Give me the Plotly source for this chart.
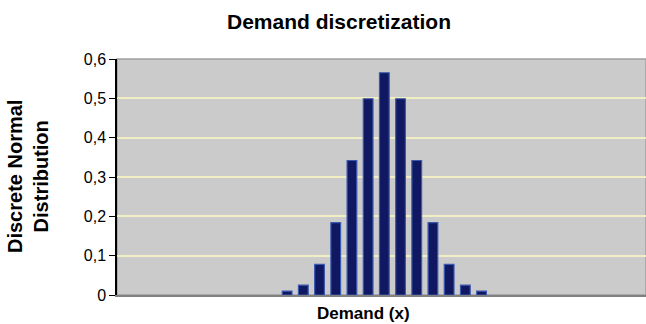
import plotly.graph_objects as go

# Demand levels (category index) and discrete normal probabilities;
# None marks demand levels with no probability mass
demand = list(range(33))
prob = [None] * 10 + [
    0.010, 0.025, 0.078, 0.184, 0.342, 0.499, 0.565,
    0.499, 0.342, 0.184, 0.078, 0.025, 0.010,
] + [None] * 10

y_ticks = [0, 0.1, 0.2, 0.3, 0.4, 0.5, 0.6]
y_tick_text = ["0", "0,1", "0,2", "0,3", "0,4", "0,5", "0,6"]

font = "Liberation Sans, Arial, sans-serif"

fig = go.Figure(
    go.Bar(
        x=demand,
        y=prob,
        width=0.6,
        marker=dict(color="#0f1860", line=dict(color="#3a58b0", width=1.2)),
        hoverinfo="x+y",
    )
)

fig.update_layout(
    width=646,
    height=324,
    margin=dict(l=117, r=0, t=59, b=29),
    paper_bgcolor="white",
    plot_bgcolor="#cbcbcb",
    showlegend=False,
    font=dict(family=font, color="black"),
    title=dict(
        text="<b>Demand discretization</b>",
        font=dict(family=font, size=21, color="black"),
        x=339 / 646, xanchor="center",
        y=1 - 22 / 324, yanchor="middle",
    ),
    annotations=[
        dict(
            text="<b>Demand (x)</b>",
            xref="paper", yref="paper",
            x=(363 - 117) / 529, y=-18 / 236,
            xanchor="center", yanchor="middle",
            showarrow=False,
            font=dict(family=font, size=17, color="black"),
        ),
        dict(
            text="<b>Discrete Normal<br>Distribution</b>",
            xref="paper", yref="paper",
            x=(28 - 117) / 529, y=0.5,
            xanchor="center", yanchor="middle",
            textangle=-90,
            showarrow=False,
            font=dict(family=font, size=20, color="black"),
        ),
    ],
    shapes=[
        dict(
            type="rect", xref="paper", yref="paper",
            x0=0, x1=1, y0=0, y1=1,
            line=dict(color="#a0a0a0", width=1.5),
            layer="below",
        )
    ],
)

fig.update_xaxes(
    range=[-0.5, 32.15],
    showticklabels=False,
    ticks="",
    showgrid=False,
    zeroline=False,
    showline=True,
    linecolor="#808080",
    linewidth=1.5,
)

fig.update_yaxes(
    range=[0, 0.6],
    tickvals=y_ticks,
    ticktext=y_tick_text,
    ticks="outside",
    ticklen=6,
    tickcolor="black",
    tickfont=dict(family=font, size=16, color="black"),
    showgrid=True,
    gridcolor="#f2eec4",
    gridwidth=1.5,
    zeroline=False,
    showline=True,
    linecolor="black",
    linewidth=1.5,
)

fig.write_html("out.html")
